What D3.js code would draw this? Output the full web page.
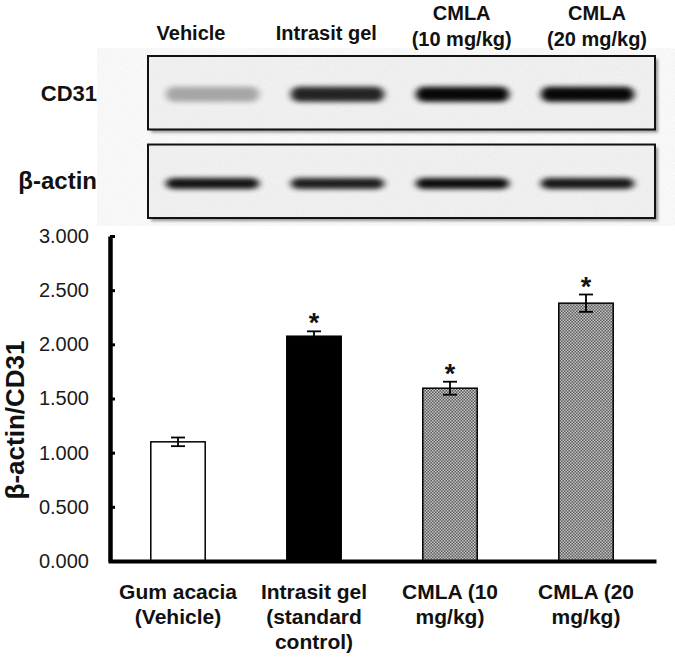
<!DOCTYPE html>
<html>
<head>
<meta charset="utf-8">
<script src="https://cdn.jsdelivr.net/npm/d3@7"></script>
<style>
  html, body { margin: 0; padding: 0; background: #fff; }
  svg { display: block; font-family: "Liberation Sans", Arial, sans-serif; }
</style>
</head>
<body>
<svg id="chart" width="675" height="658"></svg>
<script>
// ---------- data ----------
const categories = ["Gum acacia (Vehicle)", "Intrasit gel (standard control)", "CMLA (10 mg/kg)", "CMLA (20 mg/kg)"];
const categoryLabelLines = [["Gum acacia", "(Vehicle)"], ["Intrasit gel", "(standard", "control)"], ["CMLA (10", "mg/kg)"], ["CMLA (20", "mg/kg)"]];
const meanValues = [1.10, 2.075, 1.595, 2.38];
const errorValues = [0.04, 0.045, 0.06, 0.08];
const significant = [false, true, true, true];
const yTickValues = [0, 0.5, 1.0, 1.5, 2.0, 2.5, 3.0];
const yAxisTitle = "β-actin/CD31";

const lanes = ["Vehicle", "Intrasit gel", "CMLA (10 mg/kg)", "CMLA (20 mg/kg)"];
const laneLabelLines = [["Vehicle"], ["Intrasit gel"], ["CMLA", "(10 mg/kg)"], ["CMLA", "(20 mg/kg)"]];
const blotRows = ["CD31", "β-actin"];
const cd31Intensity = [0.30, 0.85, 0.97, 0.97];
const actinIntensity = [0.92, 0.88, 0.95, 0.9];

// ---------- setup ----------
const svg = d3.select("#chart");
const defs = svg.append("defs");

const pat = defs.append("pattern").attr("id", "checker")
  .attr("width", 3).attr("height", 3).attr("patternUnits", "userSpaceOnUse");
pat.append("rect").attr("width", 3).attr("height", 3).attr("fill", "#5a5a5a");
pat.append("rect").attr("x", 0).attr("y", 0).attr("width", 1.5).attr("height", 1.5).attr("fill", "#c8c8c8");
pat.append("rect").attr("x", 1.5).attr("y", 1.5).attr("width", 1.5).attr("height", 1.5).attr("fill", "#c8c8c8");

defs.append("filter").attr("id", "bandBlur").attr("x", "-30%").attr("y", "-100%").attr("width", "160%").attr("height", "300%")
  .append("feGaussianBlur").attr("stdDeviation", "3.5 2.5");
defs.append("filter").attr("id", "shadowBlur")
  .append("feGaussianBlur").attr("stdDeviation", 1.5);
const noise = defs.append("filter").attr("id", "noise");
noise.append("feTurbulence").attr("type", "fractalNoise").attr("baseFrequency", 0.9).attr("numOctaves", 2).attr("seed", 3).attr("result", "t");
noise.append("feColorMatrix").attr("type", "matrix")
  .attr("values", "0 0 0 0 0  0 0 0 0 0  0 0 0 0 0  0 0 0 0.06 0");

// ---------- blot panel ----------
const laneScale = d3.scaleBand().domain(lanes).range([150, 650]).paddingInner(0.22).paddingOuter(0.11);
const laneLabelScale = d3.scalePoint().domain(lanes).range([191, 597]);
const rowScale = d3.scaleBand().domain(blotRows).range([56, 218]).paddingInner(0.17);
const boxX0 = 148, boxX1 = 655;

laneLabelLines.forEach((lines, i) => {
  const t = svg.append("text")
    .attr("x", laneLabelScale(lanes[i]))
    .attr("text-anchor", "middle")
    .attr("font-size", 20).attr("font-weight", "bold").attr("fill", "#111");
  const base = lines.length === 1 ? 40 : 20;
  lines.forEach((ln, j) => {
    t.append("tspan").attr("x", laneLabelScale(lanes[i])).attr("y", base + j * 26).text(ln);
  });
});

blotRows.forEach((row, r) => {
  const y0 = rowScale(row), h = rowScale.bandwidth();
  svg.append("rect").attr("x", boxX0 + 3).attr("y", y0 + 3).attr("width", boxX1 - boxX0).attr("height", h)
    .attr("fill", "#9a9a9a").attr("filter", "url(#shadowBlur)");
  svg.append("rect").attr("x", boxX0).attr("y", y0).attr("width", boxX1 - boxX0).attr("height", h)
    .attr("fill", "#f6f6f6");
  svg.append("rect").attr("x", boxX0).attr("y", y0).attr("width", boxX1 - boxX0).attr("height", h)
    .attr("fill", "#000").attr("filter", "url(#noise)");
  const intens = r === 0 ? cd31Intensity : actinIntensity;
  const bandH = r === 0 ? 15 : 11;
  const cy = y0 + h * (r === 0 ? 0.52 : 0.53);
  svg.append("g").selectAll("rect").data(lanes).join("rect")
    .attr("x", d => laneScale(d) + 2)
    .attr("y", cy - bandH / 2)
    .attr("width", laneScale.bandwidth() - 4)
    .attr("height", bandH)
    .attr("rx", 8)
    .attr("fill", "#000")
    .attr("opacity", (d, i) => intens[i])
    .attr("filter", "url(#bandBlur)");
  svg.append("rect").attr("x", boxX0).attr("y", y0).attr("width", boxX1 - boxX0).attr("height", h)
    .attr("fill", "none").attr("stroke", "#111").attr("stroke-width", 2);
  svg.append("text").attr("x", 97).attr("y", y0 + h / 2 + 8)
    .attr("text-anchor", "end").attr("font-size", r === 0 ? 22 : 24).attr("font-weight", "bold").attr("fill", "#111")
    .text(row);
});

// ---------- bar chart ----------
const x = d3.scaleBand().domain(categories).range([110, 654]).paddingInner(0.6).paddingOuter(0.3);
const y = d3.scaleLinear().domain([0, 3]).range([561, 236]);
const barFill = i => i === 0 ? "#fff" : (i === 1 ? "#000" : "url(#checker)");

const bars = svg.append("g");
bars.selectAll("rect").data(categories).join("rect")
  .attr("x", d => x(d))
  .attr("y", (d, i) => y(meanValues[i]))
  .attr("width", x.bandwidth())
  .attr("height", (d, i) => y(0) - y(meanValues[i]))
  .attr("fill", (d, i) => barFill(i))
  .attr("stroke", "#000").attr("stroke-width", 1.5);

const err = svg.append("g").attr("stroke", "#000").attr("stroke-width", 1.8);
categories.forEach((c, i) => {
  const cx = x(c) + x.bandwidth() / 2;
  const top = y(meanValues[i] + errorValues[i]);
  const bot = y(meanValues[i] - errorValues[i]);
  err.append("line").attr("x1", cx).attr("x2", cx).attr("y1", top).attr("y2", bot);
  err.append("line").attr("x1", cx - 7).attr("x2", cx + 7).attr("y1", top).attr("y2", top);
  err.append("line").attr("x1", cx - 7).attr("x2", cx + 7).attr("y1", bot).attr("y2", bot);
  if (significant[i]) {
    svg.append("text").attr("x", cx).attr("y", top + 1)
      .attr("text-anchor", "middle").attr("font-size", 27).attr("font-weight", "bold").attr("fill", "#111")
      .text("*");
  }
});

// y axis
const yAxis = svg.append("g").attr("transform", "translate(110,0)")
  .call(d3.axisLeft(y).tickValues(yTickValues).tickFormat(d3.format(".3f"))
    .tickSizeInner(-5).tickSizeOuter(0).tickPadding(21));
yAxis.select(".domain").attr("stroke", "#000").attr("stroke-width", 4.5);
yAxis.selectAll(".tick line").attr("stroke", "#000").attr("stroke-width", 3);
yAxis.selectAll(".tick text").attr("font-size", 20).attr("fill", "#1a1a1a")
  .attr("font-family", "'Liberation Sans', Arial, sans-serif");

// x axis
const xAxis = svg.append("g").attr("transform", "translate(0,561)")
  .call(d3.axisBottom(x).tickSize(0).tickFormat(""));
xAxis.select(".domain").attr("stroke", "#000").attr("stroke-width", 4).attr("stroke-linecap", "square");

categoryLabelLines.forEach((lines, i) => {
  const cx = x(categories[i]) + x.bandwidth() / 2;
  const t = svg.append("text").attr("text-anchor", "middle")
    .attr("font-size", 21).attr("font-weight", "bold").attr("fill", "#111");
  lines.forEach((ln, j) => {
    t.append("tspan").attr("x", cx).attr("y", 599 + j * 25).text(ln);
  });
});

// y title
svg.append("text")
  .attr("transform", "translate(24,420) rotate(-90)")
  .attr("text-anchor", "middle")
  .attr("font-size", 26).attr("font-weight", "bold").attr("fill", "#111")
  .text(yAxisTitle);
</script>
</body>
</html>
